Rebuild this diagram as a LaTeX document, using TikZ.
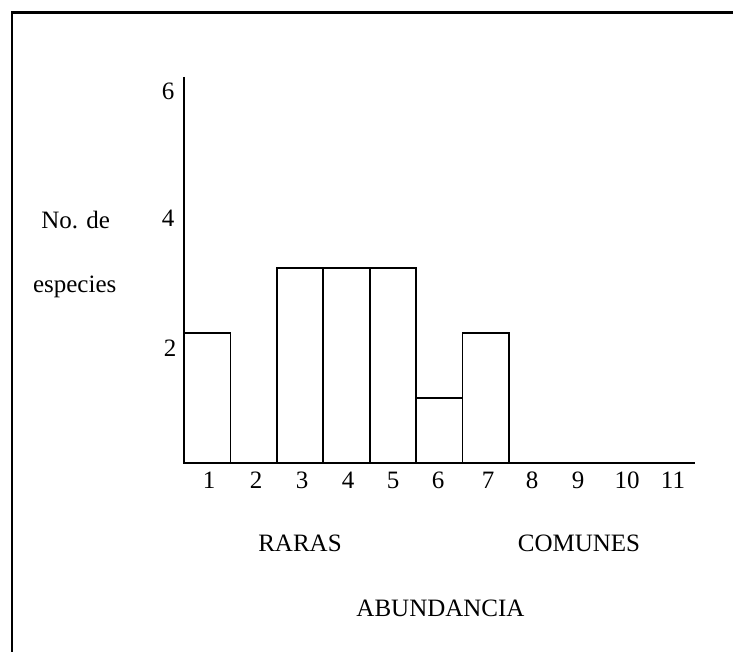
\documentclass[tikz,border=0pt]{standalone}
\usepackage{fontspec}
\setmainfont{Liberation Serif}
\begin{document}
\begin{tikzpicture}[x=1pt,y=-1pt,
  lbl/.style={anchor=base,inner sep=0pt,font=\fontsize{25}{30}\selectfont},
  axisline/.style={line width=2pt},
  bar/.style={draw,line width=1.8pt}]
\useasboundingbox (0,0) rectangle (733,652);
% frame (left and top edges)
\draw[line width=2.6pt] (12,652) -- (12,12.5) -- (733,12.5);
% axes
\coordinate (ytop) at (183.5,77);
\coordinate (org) at (183.5,463);
\coordinate (xend) at (695,463);
% bars
\foreach \i/\h in {1/2,3/3,4/3,5/3,6/1,7/2}{
  \draw[bar] ({184+46.4*(\i-1)},463) rectangle ({184+46.4*\i},{463-65*\h});
}
\draw[axisline] (ytop) -- (org) -- (xend);
% x tick labels
\foreach \n/\x in {1/209,2/256,3/302,4/348,5/393,6/438,7/488,8/532,9/578,10/627,11/673}{
  \node[lbl] (t\n) at (\x,488.3) {\n};
}
% y tick labels
\node[lbl] (y6) at (168,100) {6};
\node[lbl] (y4) at (168,226.7) {4};
\node[lbl] (y2) at (170,356.7) {2};
% axis titles
\node[lbl] (ylab1) at (75.7,228.3) {No. de};
\node[lbl] (ylab2) at (74.7,292) {especies};
\node[lbl] (raras) at (300,551.7) {RARAS};
\node[lbl] (comunes) at (579,551.7) {COMUNES};
\node[lbl] (abund) at (440.5,616) {ABUNDANCIA};
\end{tikzpicture}
\end{document}
